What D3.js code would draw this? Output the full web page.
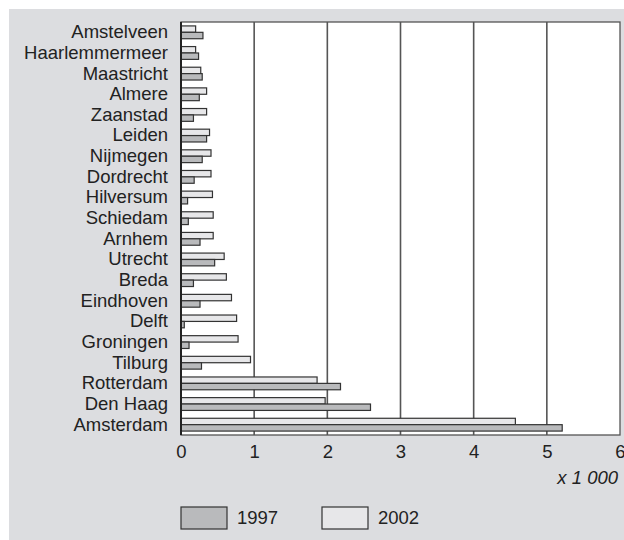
<!DOCTYPE html>
<html>
<head>
<meta charset="utf-8">
<script src="https://cdn.jsdelivr.net/npm/d3@7"></script>
<style>
  body { margin: 0; background: #fff; }
  text { font-family: "Liberation Sans", Arial, sans-serif; fill: #222; }
</style>
</head>
<body>
<div id="chart"></div>
<script>

// cities, top to bottom
var cities = ["Amstelveen", "Haarlemmermeer", "Maastricht", "Almere", "Zaanstad",
  "Leiden", "Nijmegen", "Dordrecht", "Hilversum", "Schiedam", "Arnhem", "Utrecht",
  "Breda", "Eindhoven", "Delft", "Groningen", "Tilburg", "Rotterdam", "Den Haag", "Amsterdam"];

// values x 1 000
var values1997 = [0.30, 0.24, 0.29, 0.25, 0.17, 0.35, 0.29, 0.18, 0.09, 0.10,
  0.26, 0.46, 0.17, 0.26, 0.045, 0.11, 0.28, 2.18, 2.59, 5.21];
var values2002 = [0.20, 0.20, 0.27, 0.35, 0.35, 0.39, 0.41, 0.41, 0.43, 0.44,
  0.44, 0.59, 0.62, 0.69, 0.76, 0.78, 0.95, 1.86, 1.97, 4.57];

var xTicks = [0, 1, 2, 3, 4, 5, 6];
var seriesNames = ["1997", "2002"];

var width = 624, height = 540;
var margin = { left: 181, top: 22, right: 4, bottom: 105 };
var fontSize = 18.5;

var fill1997 = "#b9babc", fill2002 = "#e7e7e9";

var svg = d3.select("#chart").append("svg")
    .attr("width", width)
    .attr("height", height);

// grey panel
svg.append("rect")
    .attr("x", 9).attr("y", 9)
    .attr("width", width - 9).attr("height", height - 9)
    .attr("fill", "#dcdde0");

var x = d3.scaleLinear()
    .domain([0, 6])
    .range([margin.left, width - margin.right]);

var y = d3.scaleBand()
    .domain(cities)
    .range([margin.top, height - margin.bottom])
    .paddingInner(0.38)
    .paddingOuter(0.19);

// plot area
svg.append("rect")
    .attr("x", x(0)).attr("y", margin.top)
    .attr("width", x(6) - x(0)).attr("height", height - margin.bottom - margin.top)
    .attr("fill", "#fff")
    .attr("stroke", "#555")
    .attr("stroke-width", 1.3);

// vertical grid
svg.append("g").selectAll("line")
    .data(xTicks.slice(1, -1))
  .enter().append("line")
    .attr("x1", function(d) { return x(d); })
    .attr("x2", function(d) { return x(d); })
    .attr("y1", margin.top)
    .attr("y2", height - margin.bottom)
    .attr("stroke", "#555")
    .attr("stroke-width", 1.6);

var half = y.bandwidth() / 2;

svg.append("g").selectAll("rect")
    .data(cities)
  .enter().append("rect")
    .attr("x", x(0))
    .attr("y", function(d) { return y(d); })
    .attr("width", function(d, i) { return x(values2002[i]) - x(0); })
    .attr("height", half)
    .attr("fill", fill2002)
    .attr("stroke", "#333")
    .attr("stroke-width", 1.2);

svg.append("g").selectAll("rect")
    .data(cities)
  .enter().append("rect")
    .attr("x", x(0))
    .attr("y", function(d) { return y(d) + half; })
    .attr("width", function(d, i) { return x(values1997[i]) - x(0); })
    .attr("height", half)
    .attr("fill", fill1997)
    .attr("stroke", "#333")
    .attr("stroke-width", 1.2);

// left axis line
svg.append("line")
    .attr("x1", x(0)).attr("x2", x(0))
    .attr("y1", margin.top).attr("y2", height - margin.bottom)
    .attr("stroke", "#222")
    .attr("stroke-width", 2);

// y labels
var yAxis = d3.axisLeft(y).tickSize(0).tickPadding(13);
var gy = svg.append("g")
    .attr("transform", "translate(" + x(0) + ",0)")
    .call(yAxis);
gy.select(".domain").remove();
gy.selectAll("text")
    .attr("font-size", fontSize)
    .attr("font-family", "'Liberation Sans', Arial, sans-serif")
    .attr("fill", "#222");

// x labels
var xAxis = d3.axisBottom(x).tickValues(xTicks).tickSize(0).tickPadding(10)
    .tickFormat(d3.format("d"));
var gx = svg.append("g")
    .attr("transform", "translate(0," + (height - margin.bottom) + ")")
    .call(xAxis);
gx.select(".domain").remove();
gx.selectAll("text")
    .attr("font-size", fontSize)
    .attr("font-family", "'Liberation Sans', Arial, sans-serif")
    .attr("fill", "#222");

svg.append("text")
    .attr("x", 618)
    .attr("y", 484)
    .attr("text-anchor", "end")
    .attr("font-size", fontSize)
    .attr("font-style", "italic")
    .text("x 1 000");

// legend
var legendX = [181, 322];
var legendFill = [fill1997, fill2002];
var lg = svg.append("g").selectAll("g")
    .data(seriesNames)
  .enter().append("g")
    .attr("transform", function(d, i) { return "translate(" + legendX[i] + ",507)"; });
lg.append("rect")
    .attr("width", 46).attr("height", 22)
    .attr("fill", function(d, i) { return legendFill[i]; })
    .attr("stroke", "#333")
    .attr("stroke-width", 1.2);
lg.append("text")
    .attr("x", 56)
    .attr("y", 11)
    .attr("dy", "0.35em")
    .attr("font-size", fontSize)
    .text(function(d) { return d; });

</script>
</body>
</html>
